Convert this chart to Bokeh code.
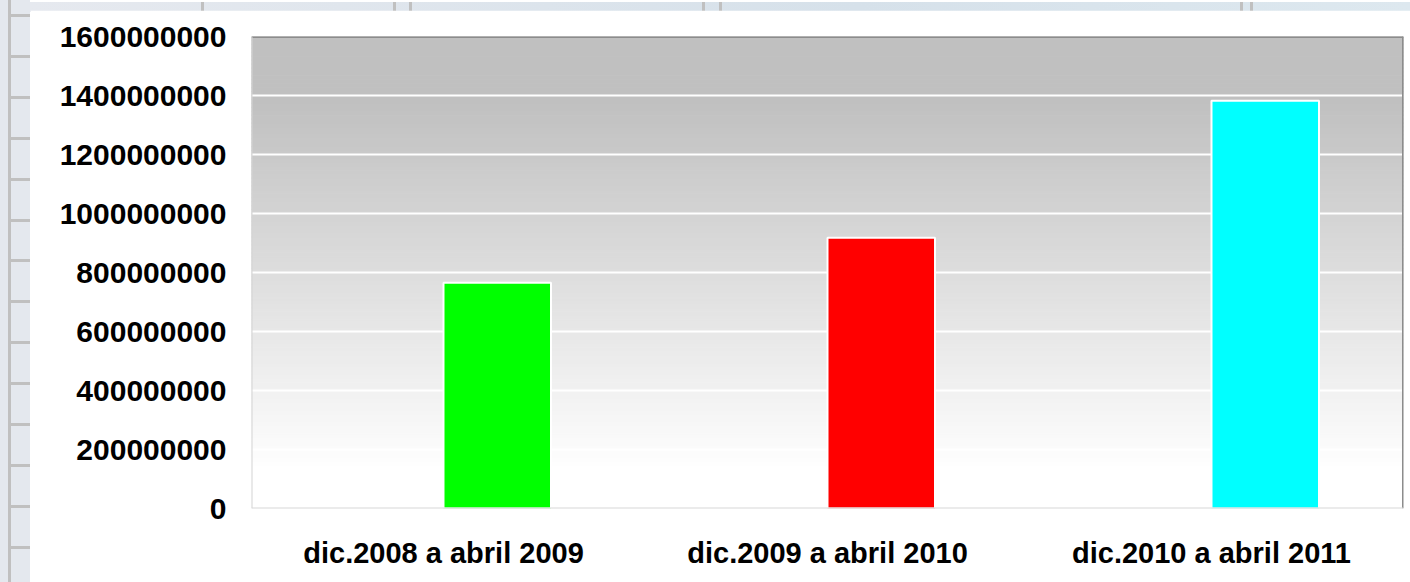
import numpy as np
from bokeh.plotting import figure
from bokeh.layouts import row, column
from bokeh.models import Range1d, FactorRange, FixedTicker, Span, NumeralTickFormatter, ColumnDataSource, Div
from bokeh.transform import dodge
from bokeh.embed import file_html
from bokeh.resources import INLINE

# ---- data ----
categories = ["dic.2008 a abril 2009", "dic.2009 a abril 2010", "dic.2010 a abril 2011"]
values = [765000000, 918000000, 1382000000]
bar_colors = ["#00ff00", "#ff0000", "#00ffff"]
y_ticks = [0, 200000000, 400000000, 600000000, 800000000,
           1000000000, 1200000000, 1400000000, 1600000000]

FONT = "Liberation Sans"
SHEET_LINE = "#c0c0c0"

# ---- decorative spreadsheet background strips (plain HTML) ----
row_lines = np.arange(15, 582, 40.9)
left_parts = ['<div style="position:relative;width:30px;height:582px;background:#e4e8ee;overflow:hidden">',
              '<div style="position:absolute;left:8px;top:0;width:3px;height:582px;background:%s"></div>' % SHEET_LINE]
for y in row_lines:
    left_parts.append('<div style="position:absolute;left:10px;top:%dpx;width:20px;height:3px;background:%s"></div>'
                      % (int(round(y)) - 1, SHEET_LINE))
left_parts.append('</div>')
left = Div(text="".join(left_parts), width=30, height=582, margin=0)

col_lines = [202, 394, 410, 703, 720, 1241, 1251]
top_parts = ['<div style="position:relative;width:1380px;height:10px;overflow:hidden;'
             'background:linear-gradient(to right,#e6e9ef,#d6e1ea 60%,#dde8ef)">']
for x in col_lines:
    top_parts.append('<div style="position:absolute;left:%dpx;top:0;width:3px;height:10px;background:%s"></div>'
                     % (x - 30 - 1, SHEET_LINE))
top_parts.append('</div>')
top = Div(text="".join(top_parts), width=1380, height=10, margin=0)

# ---- main chart ----
p = figure(width=1380, height=572,
           x_range=FactorRange(*categories, range_padding=0), y_range=Range1d(0, 1600000000),
           toolbar_location=None, output_backend="svg",
           min_border_left=221, min_border_right=7, min_border_top=26, min_border_bottom=74,
           background_fill_color="white", border_fill_color="white",
           outline_line_color=None)

# vertical gradient background (grey at top -> white at bottom)
n = 120
edges = np.linspace(0, 1600000000, n + 1)
mids = (edges[:-1] + edges[1:]) / 2 / 1600000000
g = np.clip(192 + 62 * (0.87 - mids) / 0.77, 192, 255).astype(int)
grad_colors = ["#%02x%02x%02x" % (v, v, v) for v in g]
gsrc = ColumnDataSource(dict(b=edges[:-1], t=edges[1:], c=grad_colors))
grad = p.quad(left=0, right=3, bottom="b", top="t", source=gsrc,
              fill_color="c", line_color="c", line_width=1)
grad.level = "image"

# grid
p.ygrid.grid_line_color = "white"
p.ygrid.grid_line_width = 2
p.xgrid.grid_line_color = None

# frame borders
p.add_layout(Span(location=1600000000, dimension="width", line_color="#8c8c8c", line_width=3))
p.add_layout(Span(location=3, dimension="height", line_color="#8c8c8c", line_width=3))
p.add_layout(Span(location=0, dimension="height", line_color="#d4d4d4", line_width=2))
p.add_layout(Span(location=0, dimension="width", line_color="#d8d8d8", line_width=2))

# bars (offset to the right of the category centre, as in the original)
src = ColumnDataSource(dict(cat=categories, top=values, color=bar_colors))
p.vbar(x=dodge("cat", 0.14, range=p.x_range), top="top", width=0.28, source=src,
       fill_color="color", line_color="white", line_width=2)

# axes
p.yaxis.ticker = FixedTicker(ticks=y_ticks)
p.yaxis.formatter = NumeralTickFormatter(format="0")
for ax in (p.xaxis[0], p.yaxis[0]):
    ax.axis_line_color = None
    ax.major_tick_line_color = None
    ax.minor_tick_line_color = None
    ax.major_tick_in = 0
    ax.major_tick_out = 0
    ax.major_label_text_font = FONT
    ax.major_label_text_font_style = "bold"
    ax.major_label_text_color = "black"
p.yaxis.major_label_text_font_size = "30px"
p.yaxis.major_label_standoff = 25
p.xaxis.major_label_text_font_size = "29px"
p.xaxis.major_label_standoff = 28

layout = row(left, column(top, p))
open("out.html", "w").write(file_html(layout, INLINE))
